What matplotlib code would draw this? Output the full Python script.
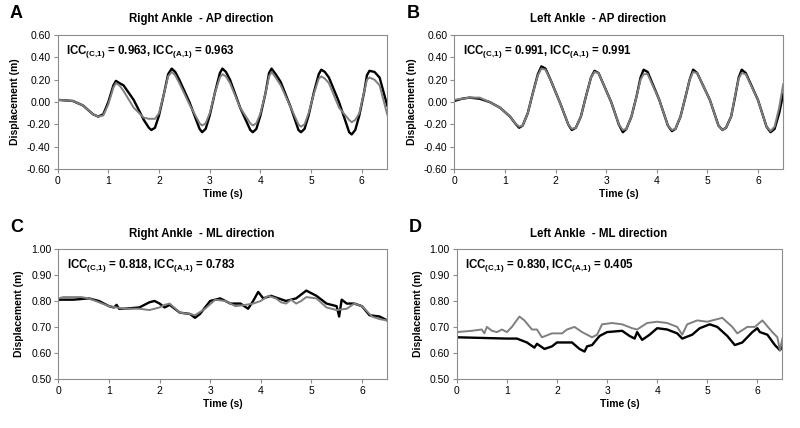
import matplotlib
matplotlib.use('Agg')
import matplotlib.pyplot as plt

plt.rcParams['font.family'] = ['Liberation Sans', 'DejaVu Sans']
plt.rcParams['mathtext.fontset'] = 'custom'
plt.rcParams['mathtext.rm'] = 'Liberation Sans:bold'
plt.rcParams['mathtext.bf'] = 'Liberation Sans:bold'

# Panel A - right ankle AP (black and grey traces share one time grid)
a_t = [0, 0.3, 0.5, 0.7, 0.8, 0.9, 1.0, 1.1, 1.15, 1.22, 1.3, 1.5, 1.7, 1.8, 1.85, 1.92, 2.0, 2.1,
       2.18, 2.25, 2.32, 2.4, 2.6, 2.8, 2.85, 2.92, 3.0, 3.1, 3.2, 3.25, 3.32, 3.4, 3.6, 3.8, 3.85,
       3.92, 4.0, 4.1, 4.17, 4.22, 4.3, 4.4, 4.6, 4.75, 4.8, 4.87, 4.95, 5.05, 5.15, 5.2, 5.27, 5.35,
       5.55, 5.75, 5.8, 5.87, 5.95, 6.05, 6.1, 6.15, 6.25, 6.35, 6.5]
a_blk = [0.02, 0.01, -0.03, -0.11, -0.13, -0.11, 0.0, 0.15, 0.19, 0.17,
         0.15, 0.02, -0.16, -0.23, -0.25, -0.23, -0.12, 0.08, 0.25, 0.30,
         0.27, 0.20, 0.0, -0.24, -0.27, -0.24, -0.12, 0.08, 0.26, 0.30,
         0.27, 0.20, -0.05, -0.25, -0.27, -0.24, -0.12, 0.08, 0.26, 0.30,
         0.25, 0.18, -0.05, -0.25, -0.27, -0.24, -0.12, 0.08, 0.25, 0.29,
         0.27, 0.22, 0.0, -0.27, -0.29, -0.25, -0.12, 0.10, 0.24, 0.28,
         0.27, 0.22, -0.03]
a_gry = [0.02, 0.01, -0.03, -0.11, -0.13, -0.12, -0.02, 0.13, 0.17, 0.15,
         0.10, -0.05, -0.14, -0.15, -0.15, -0.15, -0.10, 0.08, 0.23, 0.27,
         0.24, 0.17, -0.02, -0.19, -0.21, -0.19, -0.10, 0.08, 0.22, 0.25,
         0.23, 0.17, -0.05, -0.19, -0.21, -0.19, -0.10, 0.08, 0.23, 0.27,
         0.22, 0.15, -0.05, -0.20, -0.22, -0.20, -0.10, 0.07, 0.21, 0.23,
         0.21, 0.17, -0.05, -0.16, -0.18, -0.16, -0.10, 0.10, 0.20, 0.22,
         0.20, 0.15, -0.11]

# Panel B - left ankle AP
b_t = [0, 0.15, 0.3, 0.5, 0.7, 0.9, 1.1, 1.2, 1.28, 1.35, 1.45, 1.55, 1.65, 1.72, 1.8, 1.9, 2.1,
       2.25, 2.32, 2.4, 2.5, 2.6, 2.7, 2.77, 2.85, 3.1, 3.25, 3.33, 3.4, 3.5, 3.6, 3.68, 3.74, 3.82,
       4.05, 4.22, 4.3, 4.37, 4.47, 4.57, 4.65, 4.72, 4.8, 5.05, 5.22, 5.3, 5.37, 5.47, 5.55, 5.62,
       5.68, 5.76, 6.0, 6.17, 6.25, 6.33, 6.42, 6.5]
b_blk = [0.01, 0.03, 0.04, 0.03, 0.00, -0.05, -0.13, -0.19, -0.23, -0.21,
         -0.10, 0.08, 0.25, 0.32, 0.30, 0.20, -0.02, -0.20, -0.25, -0.23,
         -0.13, 0.05, 0.22, 0.28, 0.26, 0.00, -0.20, -0.27, -0.24, -0.13,
         0.05, 0.22, 0.29, 0.27, 0.02, -0.21, -0.26, -0.24, -0.13, 0.05,
         0.20, 0.29, 0.26, 0.02, -0.21, -0.25, -0.23, -0.13, 0.05, 0.22,
         0.29, 0.26, 0.02, -0.22, -0.27, -0.24, -0.10, 0.07]
b_gry = [0.02, 0.03, 0.04, 0.04, 0.00, -0.05, -0.13, -0.19, -0.22, -0.21,
         -0.10, 0.08, 0.24, 0.30, 0.29, 0.20, -0.02, -0.20, -0.24, -0.23,
         -0.13, 0.05, 0.22, 0.27, 0.26, 0.00, -0.20, -0.25, -0.24, -0.13,
         0.05, 0.20, 0.25, 0.25, 0.02, -0.21, -0.25, -0.24, -0.13, 0.05,
         0.20, 0.27, 0.26, 0.02, -0.21, -0.25, -0.23, -0.13, 0.06, 0.21,
         0.26, 0.25, 0.02, -0.22, -0.26, -0.22, -0.05, 0.16]

# Panel C - right ankle ML
c_t_blk = [0, 0.3, 0.6, 0.8, 1.0, 1.1, 1.15, 1.2, 1.3, 1.6, 1.8, 1.9, 2.0, 2.1, 2.2, 2.4, 2.6, 2.7,
           2.8, 3.0, 3.2, 3.4, 3.6, 3.75, 3.85, 3.95, 4.05, 4.2, 4.5, 4.7, 4.9, 5.1, 5.3, 5.5, 5.55,
           5.6, 5.7, 5.85, 6.0, 6.15, 6.35, 6.5]
c_blk = [0.805, 0.805, 0.81, 0.80, 0.78, 0.775, 0.785, 0.77, 0.77, 0.775, 0.795, 0.80, 0.79, 0.775,
         0.785, 0.755, 0.75, 0.735, 0.75, 0.80, 0.81, 0.79, 0.79, 0.77, 0.80, 0.835, 0.81, 0.82,
         0.80, 0.81, 0.84, 0.82, 0.79, 0.78, 0.74, 0.805, 0.79, 0.79, 0.78, 0.745, 0.74, 0.725]
c_t_gry = [0, 0.1, 0.45, 0.6, 0.8, 1.0, 1.3, 1.6, 1.8, 2.0, 2.1, 2.2, 2.4, 2.6, 2.7, 2.9, 3.1, 3.3,
           3.5, 3.7, 3.85, 4.0, 4.15, 4.3, 4.4, 4.5, 4.6, 4.7, 4.8, 4.9, 5.1, 5.3, 5.5, 5.7, 5.85,
           6.0, 6.2, 6.35, 6.5]
c_gry = [0.81, 0.815, 0.815, 0.81, 0.795, 0.78, 0.77, 0.77, 0.765, 0.775, 0.785, 0.79, 0.755, 0.75,
         0.745, 0.77, 0.805, 0.80, 0.78, 0.785, 0.79, 0.80, 0.82, 0.81, 0.795, 0.79, 0.805, 0.79,
         0.80, 0.815, 0.81, 0.775, 0.765, 0.77, 0.79, 0.78, 0.74, 0.73, 0.725]

# Panel D - left ankle ML
d_t_blk = [0, 1.0, 1.2, 1.4, 1.55, 1.6, 1.75, 1.9, 2.0, 2.3, 2.45, 2.55, 2.6, 2.7, 2.85, 3.0, 3.3,
           3.45, 3.55, 3.6, 3.7, 3.85, 4.0, 4.2, 4.4, 4.5, 4.7, 4.85, 5.05, 5.2, 5.4, 5.55, 5.7,
           5.85, 5.9, 6.0, 6.05, 6.2, 6.35, 6.45, 6.5]
d_blk = [0.66, 0.655, 0.655, 0.64, 0.62, 0.635, 0.615, 0.625, 0.64, 0.64, 0.615, 0.605, 0.625,
         0.63, 0.665, 0.68, 0.685, 0.665, 0.655, 0.68, 0.65, 0.67, 0.695, 0.69, 0.675, 0.655, 0.67,
         0.695, 0.71, 0.70, 0.665, 0.63, 0.64, 0.67, 0.68, 0.695, 0.68, 0.67, 0.63, 0.61, 0.625]
d_t_gry = [0, 0.3, 0.5, 0.55, 0.6, 0.7, 0.8, 0.9, 1.0, 1.1, 1.25, 1.35, 1.5, 1.6, 1.7, 1.9, 2.1,
           2.2, 2.35, 2.5, 2.7, 2.8, 2.9, 3.1, 3.3, 3.5, 3.6, 3.8, 4.0, 4.2, 4.4, 4.5, 4.6, 4.8,
           5.0, 5.3, 5.5, 5.6, 5.8, 5.95, 6.1, 6.3, 6.4, 6.45, 6.5]
d_gry = [0.68, 0.685, 0.69, 0.675, 0.70, 0.685, 0.68, 0.69, 0.68, 0.70, 0.74, 0.725, 0.69, 0.69,
         0.66, 0.675, 0.675, 0.69, 0.70, 0.68, 0.66, 0.67, 0.71, 0.715, 0.71, 0.695, 0.69, 0.715,
         0.72, 0.715, 0.70, 0.67, 0.71, 0.725, 0.72, 0.735, 0.70, 0.675, 0.70, 0.70, 0.725, 0.68,
         0.66, 0.61, 0.655]

panels = [
    ('A', 'Right Ankle  - AP direction', a_t, a_blk, a_t, a_gry, '0.963', '0.963'),
    ('B', 'Left Ankle  - AP direction', b_t, b_blk, b_t, b_gry, '0.991', '0.991'),
    ('C', 'Right Ankle  - ML direction', c_t_blk, c_blk, c_t_gry, c_gry, '0.818', '0.783'),
    ('D', 'Left Ankle  - ML direction', d_t_blk, d_blk, d_t_gry, d_gry, '0.830', '0.405'),
]
rects = [[0.072, 0.605, 0.412, 0.313], [0.568, 0.605, 0.411, 0.313],
         [0.073, 0.115, 0.411, 0.303], [0.571, 0.115, 0.407, 0.303]]

fig = plt.figure(figsize=(8, 4.28), dpi=100)
for i, (letter, title, tb, yb, tg, yg, icc_c, icc_a) in enumerate(panels):
    ax = fig.add_axes(rects[i])
    ax.plot(tb, yb, color='black', lw=1.7)
    ax.plot(tg, yg, color='#7f7f7f', lw=1.4)
    ax.set_xlim(0, 6.5)
    ax.set_xticks(range(7))
    if i < 2:
        ax.set_ylim(-0.6, 0.6)
        ax.set_yticks([-0.6, -0.4, -0.2, 0, 0.2, 0.4, 0.6])
    else:
        ax.set_ylim(0.5, 1.0)
        ax.set_yticks([0.5, 0.6, 0.7, 0.8, 0.9, 1.0])
    ax.set_yticklabels(['%.2f' % v for v in ax.get_yticks()])
    for s in ax.spines.values():
        s.set_color('#8c8c8c')
    ax.tick_params(direction='out', length=3, color='#8c8c8c', labelsize=7.5, pad=2)
    ax.set_xlabel('Time (s)', fontsize=7.5, fontweight='bold', labelpad=2)
    ax.set_ylabel('Displacement (m)', fontsize=7.5, fontweight='bold', labelpad=5)
    ax.text(0.437, 1.12, title, transform=ax.transAxes, ha='center', va='center',
            fontsize=8.3, fontweight='bold')
    ax.text(0.025, 0.94, r'ICC$_{\mathrm{(C,\!1)}}$ = ' + icc_c + r', ICC$_{\mathrm{(A,\!1)}}$ = ' + icc_a,
            transform=ax.transAxes, fontsize=8.3, fontweight='bold', va='top')
    x0 = rects[i][0] - 0.06
    fig.text(x0, rects[i][1] + rects[i][3] + 0.03, letter, fontsize=13, fontweight='bold',
             va='bottom')

fig.savefig('out.png', dpi=100)
